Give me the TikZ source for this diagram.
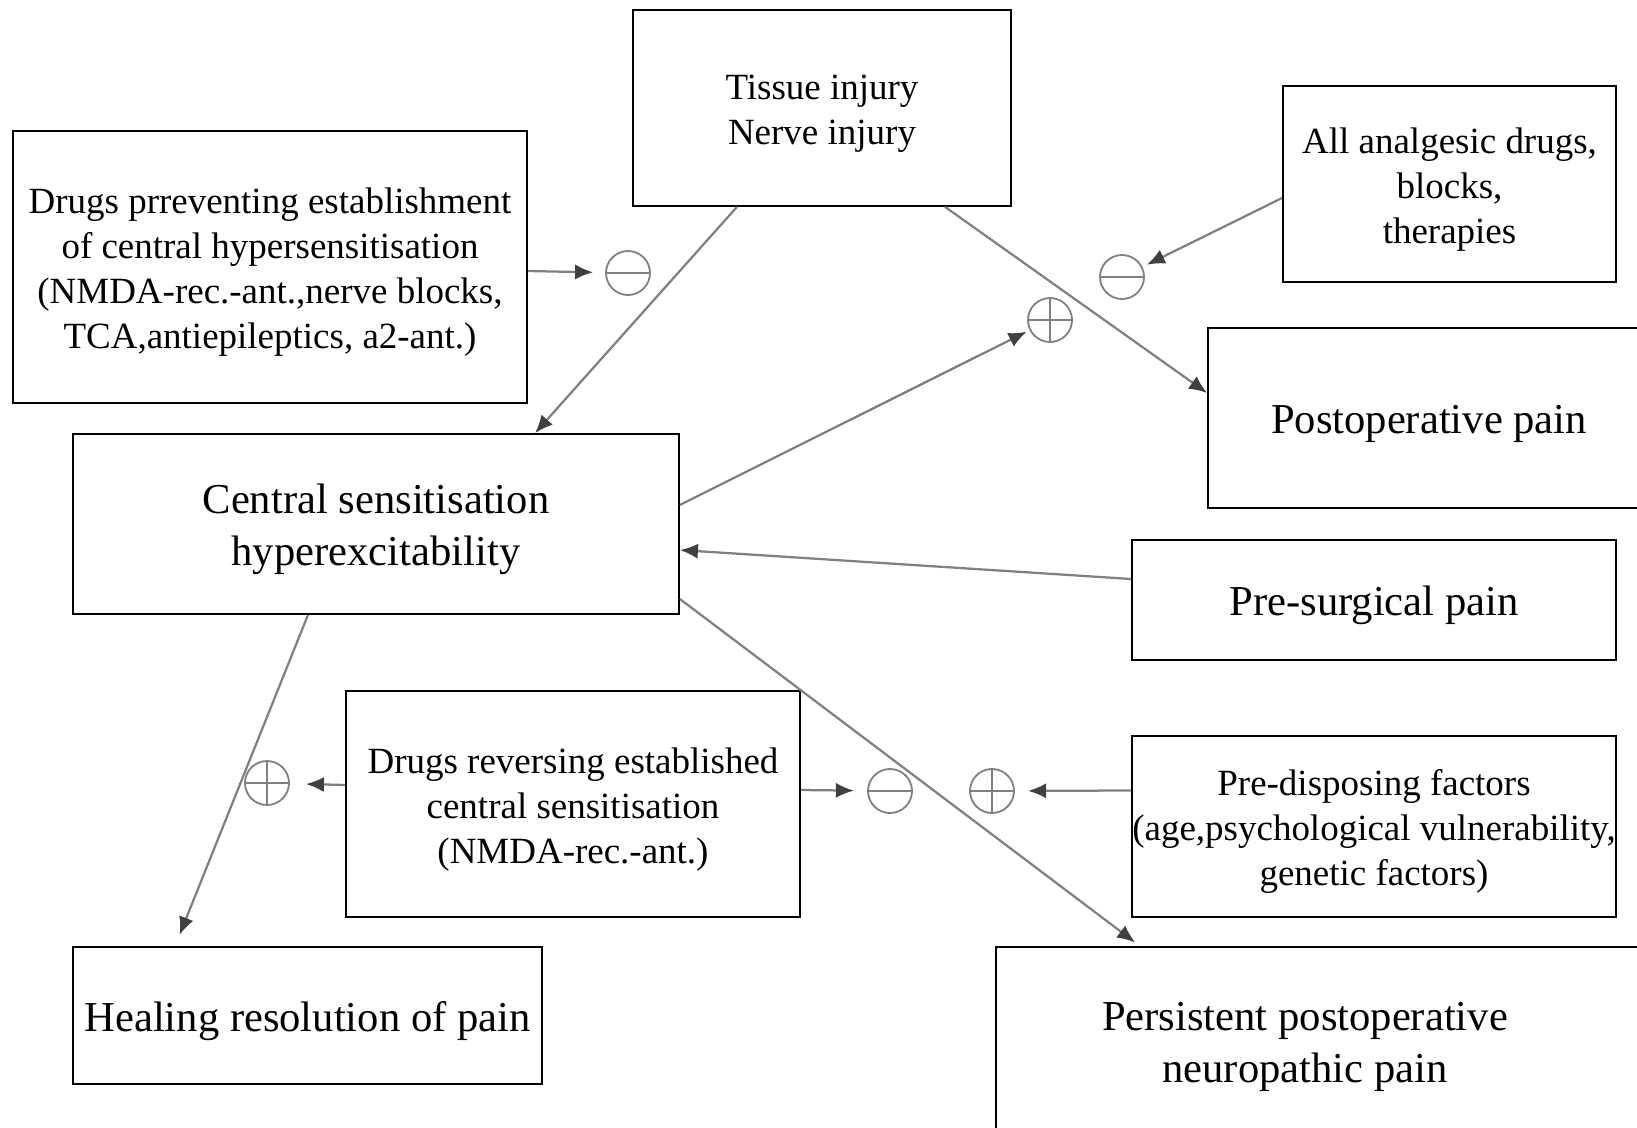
\documentclass[tikz,border=0pt]{standalone}
\usepackage{fontspec}
\setmainfont{Liberation Serif}
\usetikzlibrary{arrows.meta}

% struts that push the first text line down a little
\newcommand{\lowersmall}{\rule{0pt}{0.9cm}}
\newcommand{\lowerbig}{\rule{0pt}{1.02cm}}

\tikzset{
  smallbox/.style={draw, line width=1.2pt, align=center, font=\fontsize{26.3}{32}\selectfont},
  bigbox/.style={draw, line width=1.2pt, align=center, font=\fontsize{30.3}{37}\selectfont},
  conn/.style={draw=black!50, line width=1.6pt, -{Latex[length=0.45cm,width=0.38cm,color=black!75]}},
  sign/.style={circle, draw=black!50, line width=1.3pt, minimum size=1.1cm, inner sep=0pt},
  minussign/.style={sign, path picture={\draw[black!50, line width=1.3pt]
      (path picture bounding box.west) -- (path picture bounding box.east);}},
  plussign/.style={sign, path picture={\draw[black!50, line width=1.3pt]
      (path picture bounding box.west) -- (path picture bounding box.east)
      (path picture bounding box.north) -- (path picture bounding box.south);}}
}

\begin{document}
\begin{tikzpicture}[x=0.025cm,y=-0.025cm]
        \clip (0,0) rectangle (1637,1127);

        % boxes
        \node[smallbox, minimum width=9.45cm, minimum height=4.9cm] (tissue) at (822,108) {\lowersmall Tissue injury\\Nerve injury};
        \node[smallbox, minimum width=12.86cm, minimum height=6.79cm] (prevent) at (270,267)
            {\lowersmall Drugs prreventing establishment\\of central hypersensitisation\\(NMDA-rec.-ant.,nerve blocks,\\TCA,antiepileptics, a2-ant.)};
        \node[smallbox, minimum width=8.33cm, minimum height=4.9cm] (analg) at (1449.5,184) {\lowersmall All analgesic drugs,\\blocks,\\therapies};
        \node[bigbox, minimum width=11.05cm, minimum height=4.5cm] (postop) at (1429,418) {\lowerbig Postoperative pain};
        \node[bigbox, minimum width=15.15cm, minimum height=4.5cm] (central) at (376,524) {\lowerbig Central sensitisation\\hyperexcitability};
        \node[bigbox, minimum width=12.1cm, minimum height=3cm] (presurg) at (1374,600) {\lowerbig Pre-surgical pain};
        \node[smallbox, minimum width=11.35cm, minimum height=5.65cm] (reverse) at (573,804)
            {\lowersmall Drugs reversing established\\central sensitisation\\(NMDA-rec.-ant.)};
        \node[smallbox, minimum width=12.1cm, minimum height=4.53cm, inner sep=0pt] (predisp) at (1374,826.5)
            {\lowersmall Pre-disposing factors\\(age,psychological vulnerability,\\genetic factors)};
        \node[bigbox, minimum width=11.73cm, minimum height=3.43cm] (healing) at (307.5,1015.5) {\lowerbig Healing resolution of pain};
        \node[bigbox, minimum width=16.6cm, minimum height=4.83cm] (persist) at (1328,1043.5) {};
        \node[bigbox, draw=none] (persisttext) at (1305,1041) {\lowerbig Persistent postoperative\\neuropathic pain};

        % signs
        \node[minussign] (c1) at (628,273) {};
        \node[minussign] (c2) at (1122,277) {};
        \node[plussign] (c3) at (1050,320) {};
        \node[plussign] (c4) at (267,783) {};
        \node[minussign] (c5) at (890,791) {};
        \node[plussign] (c6) at (992,791) {};

        % connectors
        \draw[conn] ([xshift=-2.125cm]tissue.south) -- ([xshift=3.975cm]central.north);
        \draw[conn] ([xshift=3.075cm]tissue.south) -- ([yshift=0.625cm]postop.west);
        \draw[conn, shorten >=0.3cm] ([yshift=-0.1cm]prevent.east) -- (c1);
        \draw[conn, shorten >=0.12cm] ([yshift=-0.35cm]analg.west) -- (c2);
        \draw[conn, shorten >=0.08cm] ([yshift=0.475cm]central.east) -- (c3);
        \draw[conn] ([yshift=0.525cm]presurg.west) -- ([yshift=-0.65cm]central.east);
        \draw[conn, shorten >=0.15cm] ([yshift=-1.875cm]central.east) -- ([xshift=-4.7cm]persist.north);
        \draw[conn, shorten >=0.3cm] ([xshift=-1.7cm]central.south) -- ([xshift=-3.31cm]healing.north);
        \draw[conn, shorten >=0.4cm] ([yshift=0.475cm]reverse.west) -- (c4);
        \draw[conn, shorten >=0.33cm] ([yshift=0.35cm]reverse.east) -- (c5);
        \draw[conn, shorten >=0.33cm] ([yshift=0.9cm]predisp.west) -- (c6);
\end{tikzpicture}
\end{document}
